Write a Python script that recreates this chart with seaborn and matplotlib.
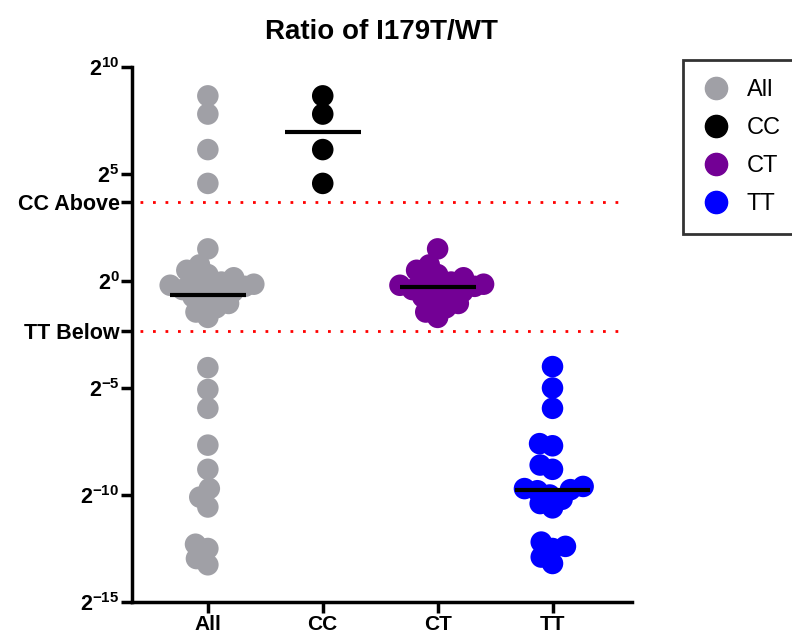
import numpy as np
import pandas as pd
import matplotlib
matplotlib.use('Agg')
import matplotlib.pyplot as plt
import seaborn as sns
from matplotlib.lines import Line2D

# values are log2(ratio I179T/WT)
cc_vals = [8.65, 7.8, 6.14, 4.56]
ct_vals = [1.5, 0.75, 0.5, 0.3, 0.15, 0.05, -0.05, -0.15, -0.2, -0.25,
           -0.3, -0.4, -0.5, -0.6, -0.75, -0.9, -1.05, -1.25, -1.45, -1.7]
tt_vals = [-4.0, -5.0, -5.95, -7.6, -7.7, -8.6, -8.8, -9.6, -9.7, -9.75,
           -9.8, -10.0, -10.2, -10.4, -10.6, -12.2, -12.4, -12.5, -12.9, -13.2]
all_low = [-4.05, -5.07, -5.95, -7.67, -8.8, -9.7, -10.1, -10.56,
           -12.3, -12.5, -12.97, -13.26]
all_vals = cc_vals + ct_vals + all_low

groups = ['All', 'CC', 'CT', 'TT']
colors = ['#a0a0a6', '#000000', '#730095', '#0000ff']
cc_above = 3.7
tt_below = -2.33
ytick_pos = [-15, -10, -5, 0, 5, 10]

df = pd.DataFrame({
    'group': ['All'] * len(all_vals) + ['CC'] * len(cc_vals)
             + ['CT'] * len(ct_vals) + ['TT'] * len(tt_vals),
    'val': all_vals + cc_vals + ct_vals + tt_vals,
})

sns.set_style('white')
plt.rcParams['font.family'] = ['Liberation Sans', 'DejaVu Sans']
plt.rcParams['mathtext.fontset'] = 'custom'
plt.rcParams['mathtext.bf'] = 'Liberation Sans:bold'
plt.rcParams['mathtext.rm'] = 'Liberation Sans'
for k in ['text.color', 'axes.labelcolor', 'xtick.color', 'ytick.color']:
    plt.rcParams[k] = 'black'

fig = plt.figure(figsize=(7.92, 6.44), dpi=100)
ax = fig.add_axes([0.1667, 0.0652, 0.631, 0.8308])
ax.set_xlim(-0.66, 3.69)
ax.set_ylim(-15, 10)

# swarm laid out with a small marker, then redrawn bigger so dots overlap
sns.swarmplot(data=df, x='group', y='val', hue='group', order=groups,
              hue_order=groups, palette=colors, size=9, linewidth=0,
              legend=False, ax=ax, zorder=2)
ax.set_xlim(-0.66, 3.69)
ax.set_ylim(-15, 10)
fig.canvas.draw()
for coll in list(ax.collections):
    offs = np.asarray(coll.get_offsets())
    fc = coll.get_facecolors()
    coll.remove()
    ax.scatter(offs[:, 0], offs[:, 1], s=15.5 ** 2, c=fc, linewidths=0, zorder=2)

# median lines
for i, g in enumerate(groups):
    med = df.loc[df['group'] == g, 'val'].median()
    ax.hlines(med, i - 0.33, i + 0.33, color='black', lw=3, zorder=4)

# threshold lines
for yv in [cc_above, tt_below]:
    ax.axhline(yv, xmin=0.015, xmax=0.985, color='red', ls=(0, (1, 3.5)), lw=2, zorder=1)

ax.set_xlim(-0.66, 3.69)
ax.set_ylim(-15, 10)
yt = ytick_pos + [cc_above, tt_below]
ylab = [r'$\mathbf{2^{%d}}$' % v for v in ytick_pos] + ['CC Above', 'TT Below']
ax.set_yticks(yt)
ax.set_yticklabels(ylab, fontsize=15.5, fontweight='bold')
ax.set_xticks(range(len(groups)))
ax.set_xticklabels(groups, fontsize=15, fontweight='bold')
ax.set_xlabel('')
ax.set_ylabel('')

for s in ['top', 'right']:
    ax.spines[s].set_visible(False)
for s in ['left', 'bottom']:
    ax.spines[s].set_linewidth(2.5)
    ax.spines[s].set_color('black')
ax.tick_params(axis='both', direction='out', length=8, width=2.5, color='black',
               pad=1, left=True, bottom=True)

ax.set_title('Ratio of I179T/WT', fontsize=20, fontweight='bold', pad=20)

handles = [Line2D([0], [0], marker='o', ls='', color=c, markersize=16) for c in colors]
leg = fig.legend(handles, groups, loc='upper left', bbox_to_anchor=(0.862, 0.907),
                 frameon=True, fancybox=False, fontsize=17, handletextpad=0.7,
                 labelspacing=0.68, borderpad=0.8, handlelength=1.2, borderaxespad=0)
leg.get_frame().set_edgecolor('black')
leg.get_frame().set_linewidth(2)

fig.savefig('out.png', dpi=100)
